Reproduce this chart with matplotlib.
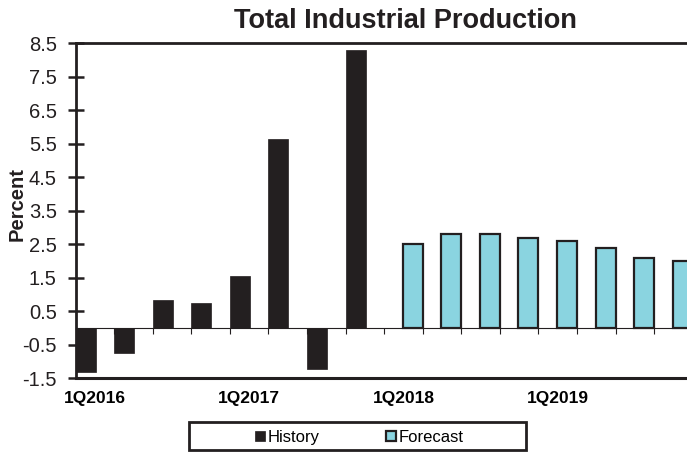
import matplotlib
matplotlib.use("Agg")
import matplotlib.pyplot as plt
from matplotlib.patches import Patch, Rectangle

plt.rcParams['font.family'] = ['Liberation Sans', 'DejaVu Sans']

# Quarterly growth, percent (1Q2016 .. 4Q2019)
quarters = ['1Q2016', '2Q2016', '3Q2016', '4Q2016',
            '1Q2017', '2Q2017', '3Q2017', '4Q2017',
            '1Q2018', '2Q2018', '3Q2018', '4Q2018',
            '1Q2019', '2Q2019', '3Q2019', '4Q2019']
history = [-1.3, -0.73, 0.84, 0.74, 1.54, 5.64, -1.23, 8.3]
forecast = [2.5, 2.8, 2.8, 2.7, 2.6, 2.4, 2.1, 2.0]
yticks = [-1.5, -0.5, 0.5, 1.5, 2.5, 3.5, 4.5, 5.5, 6.5, 7.5, 8.5]
label_every = 4

dark = '#231f20'
blue = '#8ad4e0'
bw = 0.52

fig = plt.figure(figsize=(6.87, 4.54), dpi=100)
ax = fig.add_axes([0.1099, 0.1667, 0.8985, 0.7379])

n_hist = len(history)
hx = list(range(n_hist))
fx = [n_hist + i + 1 - bw for i in range(len(forecast))]
ax.bar(hx, history, width=bw, align='edge', color=dark, edgecolor=dark, linewidth=0.5)
ax.bar(fx, forecast, width=bw, align='edge', color=blue, edgecolor=dark, linewidth=1.6)

ax.set_xlim(0, len(quarters))
ax.set_ylim(yticks[0], yticks[-1])
ax.set_yticks(yticks)
ax.set_yticklabels([f"{v:.1f}" for v in yticks], fontsize=14.5)
ax.tick_params(axis='y', direction='inout', length=11, width=1.8, pad=8, colors=dark)

# zero line with category separators
ax.spines['bottom'].set_position(('data', 0))
ax.spines['bottom'].set_linewidth(0.8)
ax.spines['bottom'].set_color(dark)
ax.set_xticks(range(1, len(quarters)))
ax.set_xticklabels([])
ax.tick_params(axis='x', direction='out', length=4, width=0.8, colors=dark)

ax.spines['left'].set_linewidth(2)
ax.spines['left'].set_color(dark)
ax.spines['top'].set_linewidth(2)
ax.spines['top'].set_color(dark)
ax.spines['right'].set_visible(False)

# bottom axis carrying the year labels
sec = ax.secondary_xaxis('bottom')
pos = [i + 0.5 for i in range(0, len(quarters), label_every)]
sec.set_xticks(pos)
sec.set_xticklabels([quarters[i] for i in range(0, len(quarters), label_every)],
                    fontsize=12.5, fontweight='bold')
sec.tick_params(length=0, pad=9)
sec.spines['bottom'].set_linewidth(2.2)
sec.spines['bottom'].set_color(dark)

fig.text(0.590, 0.938, 'Total Industrial Production', fontsize=19.5,
         fontweight='bold', ha='center', va='baseline', color=dark)
fig.text(0.025, 0.55, 'Percent', fontsize=14.5, fontweight='bold',
         rotation=90, ha='center', va='center', color=dark)

handles = [Patch(facecolor=dark, edgecolor=dark, linewidth=0.5),
           Patch(facecolor=blue, edgecolor=dark, linewidth=1.6)]
fig.legend(handles, ['History', 'Forecast'], loc='center', ncol=2,
           bbox_to_anchor=(0.523, 0.037), frameon=False, fontsize=12,
           handlelength=0.6, handleheight=0.6, handletextpad=0.15,
           columnspacing=4.0)
fig.patches.append(Rectangle((0.275, 0.008), 0.49, 0.063, transform=fig.transFigure,
                             fill=False, edgecolor=dark, linewidth=2))

fig.savefig('out.png', dpi=100)
